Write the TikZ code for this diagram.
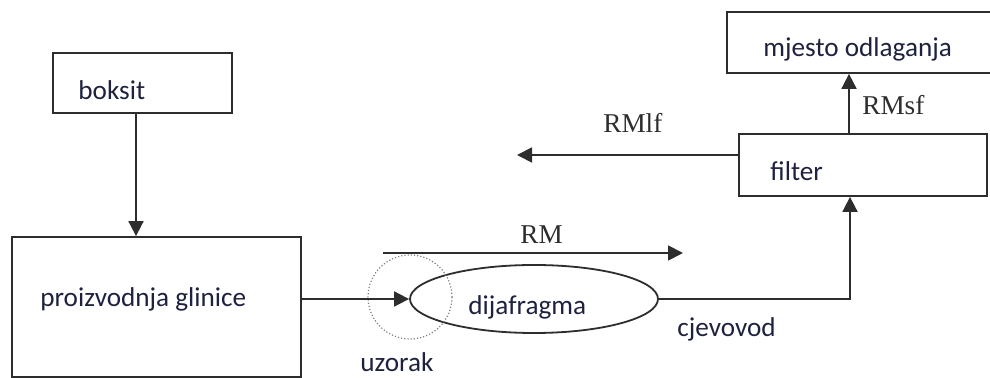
\documentclass[tikz,border=0pt]{standalone}
\usepackage{fontspec}
\setmainfont{Carlito}
\newfontfamily\timesfont{Liberation Serif}
\usetikzlibrary{shapes.geometric,arrows.meta}
\definecolor{linegray}{RGB}{45,45,45}
\definecolor{textnavy}{RGB}{30,34,62}

\begin{document}
\begin{tikzpicture}[x=0.5pt,y=-0.5pt,
    box/.style={draw=linegray,line width=0.9pt,rectangle,inner sep=0pt},
    ell/.style={draw=linegray,line width=0.9pt,ellipse,inner sep=0pt,minimum width=124pt,minimum height=34pt},
    probe/.style={draw=gray,densely dotted,line width=0.6pt,circle,inner sep=0pt,minimum size=42pt},
    lbl/.style={inner sep=0pt,text=textnavy,font=\fontsize{13.6}{16}\selectfont},
    tlbl/.style={inner sep=0pt,text=linegray,font=\timesfont\fontsize{13.6}{15}\selectfont},
    arr/.style={draw=linegray,line width=0.9pt,-{Triangle[length=7.5pt,width=7.5pt]}}]
  \useasboundingbox (0,0) rectangle (990,378);

  \node[box,minimum width=89.5pt,minimum height=30pt] (boksit) at (142.5,83) {};
  \node[lbl,anchor=base west] (boksittxt) at (78,100) {boksit};
  \node[box,minimum width=144.5pt,minimum height=70pt] (glinica) at (156.5,307) {};
  \node[lbl,anchor=base west] (glinicatxt) at (40,307) {proizvodnja glinice};
  \node[ell] (dijafragma) at (534,299) {};
  \node[lbl,anchor=base west] (dijafragmatxt) at (468,315) {dijafragma};
  \node[probe] (uzorakkrug) at (410,297) {};
  \node[lbl,anchor=base west] (uzorak) at (360,372) {uzorak};
  \node[lbl,anchor=base west] (cjevovod) at (677,337) {cjevovod};
  \node[box,minimum width=124pt,minimum height=31pt] (filter) at (863,165) {};
  \node[lbl,anchor=base west] (filtertxt) at (770,181) {filter};
  \node[box,minimum width=135pt,minimum height=30.5pt] (mjesto) at (862,42.5) {};
  \node[lbl,anchor=base west] (mjestotxt) at (763,57) {mjesto odlaganja};

  \coordinate (rmstart) at (383,253);
  \coordinate (rmend) at (683,253);
  \coordinate (rmlfend) at (517,155);
  \node[tlbl,anchor=base west] (rm) at (520,244) {RM};
  \node[tlbl,anchor=base west] (rmlf) at (603,133) {RMlf};
  \node[tlbl,anchor=base west] (rmsf) at (862,115) {RMsf};

  \draw[arr] ([xshift=-3.25pt]boksit.south) -- ([xshift=-3.25pt]boksit.south |- glinica.north);
  \draw[arr] (glinica.east |- dijafragma.west) -- (dijafragma.west);
  \draw[arr] (rmstart) -- (rmend);
  \draw[arr] (dijafragma.east) -| ([xshift=-6.5pt]filter.south);
  \draw[arr] ([yshift=5pt]filter.west) -- (rmlfend);
  \draw[arr] ([xshift=-7pt]filter.north) -- ([xshift=-7pt]filter.north |- mjesto.south);
\end{tikzpicture}
\end{document}
